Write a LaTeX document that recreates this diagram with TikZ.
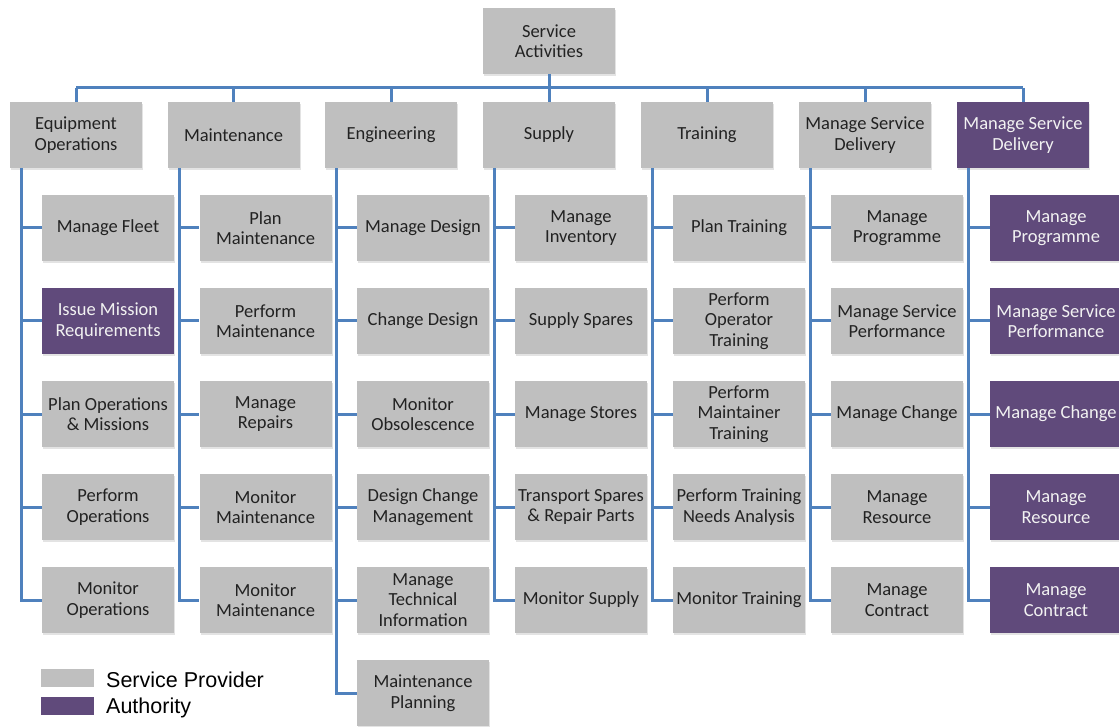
\documentclass[tikz,border=0pt]{standalone}
\usepackage{fontspec}
\setmainfont{Carlito}
\newfontfamily\legendfont{Liberation Sans}
\usetikzlibrary{shadows}
\definecolor{provider}{HTML}{BFBFBF}
\definecolor{authority}{HTML}{604A7B}
\definecolor{link}{HTML}{4F81BD}
\definecolor{ink}{HTML}{222222}
\definecolor{paper}{HTML}{F2F2F2}

\begin{document}
\begin{tikzpicture}[x=1pt,y=-1pt,
  box/.style={minimum width=132pt, minimum height=66pt, inner xsep=0pt, inner ysep=2pt,
    align=center, font=\fontsize{18.5}{20.5}\selectfont,
    drop shadow={shadow xshift=1.2pt, shadow yshift=-1.6pt, opacity=0.22}},
  prov/.style={box, fill=provider, text=ink},
  auth/.style={box, fill=authority, text=paper},
  conn/.style={draw=link, line width=3pt, line join=miter},
  keybox/.style={minimum width=53pt, minimum height=18pt, inner sep=0pt},
  keytext/.style={anchor=west, inner sep=0pt, font=\legendfont\fontsize{21.5}{24}\selectfont, text=black}]

\useasboundingbox (0,0) rectangle (1119,727);

% root
\node[prov] (root) at (549,41) {Service\\Activities};

% first level
\node[prov] (c1) at (76,135)    {Equipment\\Operations};
\node[prov] (c2) at (233.5,135) {Maintenance};
\node[prov] (c3) at (391,135)   {Engineering};
\node[prov] (c4) at (549,135)   {Supply};
\node[prov] (c5) at (707,135)   {Training};
\node[prov] (c6) at (865,135)   {Manage Service\\Delivery};
\node[auth] (c7) at (1023,135)  {Manage Service\\Delivery};

% equipment operations
\node[prov] (e1) at (108,228) {Manage Fleet};
\node[auth] (e2) at (108,321) {Issue Mission\\Requirements};
\node[prov] (e3) at (108,414) {Plan Operations\\\& Missions};
\node[prov] (e4) at (108,507) {Perform\\Operations};
\node[prov] (e5) at (108,600) {Monitor\\Operations};

% maintenance
\node[prov] (m1) at (265.5,228) {Plan\\Maintenance};
\node[prov] (m2) at (265.5,321) {Perform\\Maintenance};
\node[prov] (m3) at (265.5,414) {Manage\\Repairs};
\node[prov] (m4) at (265.5,507) {Monitor\\Maintenance};
\node[prov] (m5) at (265.5,600) {Monitor\\Maintenance};

% engineering
\node[prov] (g1) at (423,228) {Manage Design};
\node[prov] (g2) at (423,321) {Change Design};
\node[prov] (g3) at (423,414) {Monitor\\Obsolescence};
\node[prov] (g4) at (423,507) {Design Change\\Management};
\node[prov] (g5) at (423,600) {Manage\\Technical\\Information};
\node[prov] (g6) at (423,693) {Maintenance\\Planning};

% supply
\node[prov] (s1) at (581,228) {Manage\\Inventory};
\node[prov] (s2) at (581,321) {Supply Spares};
\node[prov] (s3) at (581,414) {Manage Stores};
\node[prov] (s4) at (581,507) {Transport Spares\\\& Repair Parts};
\node[prov] (s5) at (581,600) {Monitor Supply};

% training
\node[prov] (t1) at (739,228) {Plan Training};
\node[prov] (t2) at (739,321) {Perform\\Operator\\Training};
\node[prov] (t3) at (739,414) {Perform\\Maintainer\\Training};
\node[prov] (t4) at (739,507) {Perform Training\\Needs Analysis};
\node[prov] (t5) at (739,600) {Monitor Training};

% service delivery, provider side
\node[prov] (d1) at (897,228) {Manage\\Programme};
\node[prov] (d2) at (897,321) {Manage Service\\Performance};
\node[prov] (d3) at (897,414) {Manage Change};
\node[prov] (d4) at (897,507) {Manage\\Resource};
\node[prov] (d5) at (897,600) {Manage\\Contract};

% service delivery, authority side
\node[auth] (a1) at (1056,228) {Manage\\Programme};
\node[auth] (a2) at (1056,321) {Manage Service\\Performance};
\node[auth] (a3) at (1056,414) {Manage Change};
\node[auth] (a4) at (1056,507) {Manage\\Resource};
\node[auth] (a5) at (1056,600) {Manage\\Contract};

% top bus
\coordinate (bus) at (549,88);
\draw[conn] (root.south) -- (root.south |- bus);
\draw[conn] (c1.north |- bus) -- (c7.north |- bus);
\foreach \c in {c1,c2,c3,c4,c5,c6,c7}
  \draw[conn] (\c.north |- bus) -- (\c.north);

% spines down each column
\foreach \c/\p/\last/\n in {c1/e/5/4, c2/m/5/4, c3/g/6/5, c4/s/5/4, c5/t/5/4, c6/d/5/4, c7/a/5/4} {
  \coordinate (v-\c) at ([xshift=12pt]\c.south west);
  \draw[conn] (v-\c) |- (\p\last.west);
  \foreach \k in {1,...,\n}
    \draw[conn] (v-\c |- \p\k.west) -- (\p\k.west);
}

% key
\node[keybox, fill=provider]  (kp) at (67.5,678) {};
\node[keybox, fill=authority] (ka) at (67.5,705.5) {};
\node[keytext] (kpt) at (106,680)   {Service Provider};
\node[keytext] (kat) at (106,708) {Authority};
\end{tikzpicture}
\end{document}
